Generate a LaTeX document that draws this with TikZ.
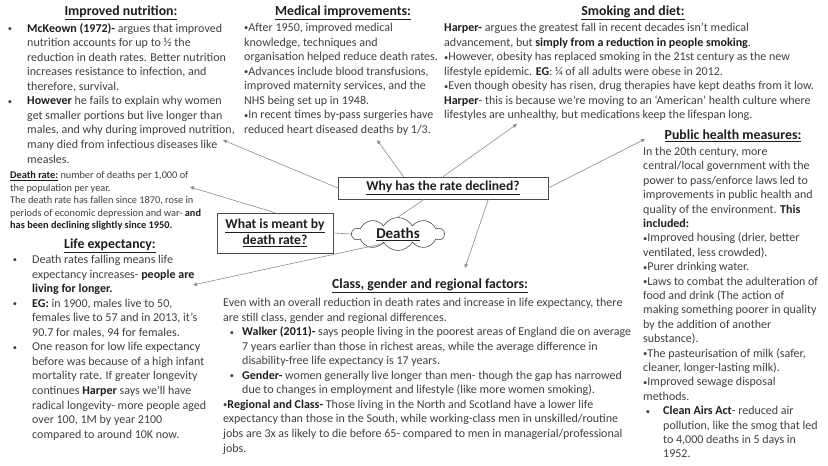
\documentclass[tikz,border=0pt]{standalone}
\usepackage{fontspec}
\setmainfont{Carlito}
\usetikzlibrary{arrows.meta,shapes.symbols}
\definecolor{ink}{HTML}{404040}
\definecolor{dark}{HTML}{1E1E1E}
\definecolor{wire}{HTML}{8C8C8C}
\tikzset{
  body/.style={text=ink, font=\fontsize{12}{14.55}\selectfont, align=left, anchor=north west, inner sep=0pt},
  small/.style={body, font=\fontsize{10.3}{12.4}\selectfont},
  ttl/.style={text=dark, font=\fontsize{13.8}{16}\selectfont\bfseries, inner sep=0pt},
  qbox/.style={draw=black!70, line width=0.6pt, text=dark, font=\fontsize{13.6}{16}\selectfont\bfseries, align=center},
  link/.style={draw=wire, line width=0.6pt},
  point/.style={link, -{Triangle[length=4pt,width=3.6pt]}},
}
\newcommand{\sbul}{{\fontsize{8.5}{8.5}\selectfont\raisebox{0.6pt}{•}}}
\newcommand{\lbul}[1]{\llap{\sbul\hspace{#1}}}
\newcommand{\indt}[1]{\hspace*{#1}}
\newcommand{\bd}[1]{{\color{dark}\bfseries #1}}

\begin{document}
\begin{tikzpicture}[x=1pt,y=-1pt]
\useasboundingbox (0,0) rectangle (828,466);
\fill[white] (0,0) rectangle (828,466);

% titles
\node[ttl] (nutrT) at (121,13) {\underline{Improved nutrition:}};
\node[ttl] (medT) at (343,13) {\underline{Medical improvements:}};
\node[ttl] (smokeT) at (633,13) {\underline{Smoking and diet:}};
\node[ttl] (lifeT) at (110,246) {\underline{Life expectancy:}};
\node[ttl] (classT) at (430,286) {\underline{Class, gender and regional factors:}};
\node[ttl] (pubT) at (733,136) {\underline{Public health measures:}};

% text blocks
\node[body] (nutr) at (27,23) {\lbul{15pt}\bd{McKeown (1972)-} argues that improved\\
nutrition accounts for up to ½ the\\
reduction in death rates. Better nutrition\\
increases resistance to infection, and\\
therefore, survival.\\
\lbul{15pt}\bd{However} he fails to explain why women\\
get smaller portions but live longer than\\
males, and why during improved nutrition,\\
many died from infectious diseases like\\
measles.};

\node[body] (med) at (244,23) {\sbul After 1950, improved medical\\
knowledge, techniques and\\
organisation helped reduce death rates.\\
\sbul Advances include blood transfusions,\\
improved maternity services, and the\\
NHS being set up in 1948.\\
\sbul In recent times by-pass surgeries have\\
reduced heart diseased deaths by 1/3.};

\node[body] (smoke) at (444,23) {\bd{Harper-} argues the greatest fall in recent decades isn’t medical\\
advancement,  but \bd{simply from a reduction in people smoking}.\\
\sbul However, obesity has replaced smoking in the 21st century as the new\\
lifestyle epidemic. \bd{EG}: ¼ of all adults were obese in 2012.\\
\sbul Even though obesity has risen, drug therapies have kept deaths from it low.\\
\bd{Harper}- this is because we’re moving to an ‘American’ health culture where\\
lifestyles are unhealthy, but medications  keep the lifespan long.};

\node[small] (rate) at (10,171.5) {\bd{\underline{Death rate:}} number of deaths per 1,000 of\\
the population per year.\\
The death rate has fallen since 1870, rose in\\
periods of economic depression and war- \bd{and}\\
\bd{has been declining slightly since 1950.}};

\node[body] (life) at (32,255) {\lbul{15pt}Death rates falling means life\\
expectancy increases- \bd{people are}\\
\bd{living for longer.}\\
\lbul{15pt}\bd{EG:} in 1900, males live to 50,\\
females live to 57 and in 2013, it’s\\
90.7 for males, 94 for females.\\
\lbul{15pt}One reason for low life expectancy\\
before was because of a high infant\\
mortality rate. If greater longevity\\
continues  \bd{Harper} says we’ll have\\
radical longevity- more people aged\\
over 100, 1M by year 2100\\
compared to around 10K now.};

\node[body] (class) at (223,298) {Even with an overall reduction in death rates and increase in life expectancy, there\\
are still class, gender and regional differences.\\
\indt{19pt}\lbul{8pt}\bd{Walker (2011)-} says people living in the poorest areas of England die on average\\
\indt{19pt}7 years earlier than those in richest areas, while the average difference in\\
\indt{19pt}disability-free  life expectancy is 17 years.\\
\indt{19pt}\lbul{8pt}\bd{Gender-} women generally live longer than men- though the gap has narrowed\\
\indt{19pt}due to changes in employment  and lifestyle (like more women smoking).\\
\sbul\bd{Regional and Class-} Those living in the North and Scotland have a lower life\\
expectancy than those in the South, while working-class men in unskilled/routine\\
jobs are 3x as likely to die before 65- compared to men in managerial/professional\\
jobs.};

\node[body, font=\fontsize{12}{14.4}\selectfont] (pub) at (643,147) {In the 20th century, more\\
central/local government with the\\
power to pass/enforce laws led to\\
improvements in public health and\\
quality of the environment. \bd{This}\\
\bd{included:}\\
\sbul Improved housing (drier, better\\
ventilated,  less crowded).\\
\sbul Purer drinking water.\\
\sbul Laws to combat the adulteration of\\
food and drink (The action of\\
making something poorer in quality\\
by the addition  of another\\
substance).\\
\sbul The pasteurisation of milk (safer,\\
cleaner, longer-lasting  milk).\\
\sbul Improved sewage disposal\\
methods.\\
\indt{20pt}\lbul{13pt}\bd{Clean Airs Act}- reduced air\\
\indt{20pt}pollution,  like the smog that led\\
\indt{20pt}to 4,000 deaths in 5 days in\\
\indt{20pt}1952.};

% centre of the map
\node[qbox, minimum width=210pt, minimum height=22pt, inner sep=0pt] (why) at (443,188) {\underline{Why has the rate declined?}};
\node[qbox, minimum width=116pt, minimum height=40pt, inner sep=0pt] (what) at (275,233) {\underline{What is meant by}\\\underline{death rate?}};
\node[cloud, cloud puffs=10, cloud puff arc=120, aspect=2.8, draw=black!70, line width=0.6pt,
  minimum width=92pt, minimum height=33pt, inner sep=0pt, text=dark,
  font=\fontsize{15}{17}\selectfont\bfseries] (deaths) at (398,234) {\underline{Deaths}};

% arrow ends
\coordinate (nutrTip) at (223,140);
\coordinate (medTip) at (377,140);
\coordinate (smokeTip) at (517,124);
\coordinate (pubTip) at (645,139);
\coordinate (classTip) at (465,268);
\coordinate (rateTip) at (190,187);
\coordinate (lifeTip) at (193,285);

\draw[point] (why.west) -- (nutrTip);
\draw[point] (why.164) -- (medTip);
\draw[point] (why.north) -- (smokeTip);
\draw[point] (why.east) -- (pubTip);
\draw[point] (why.346) -- (classTip);
\draw[link] (deaths.north) -- (why.211);
\draw[link] (what.east) -- (deaths.west);
\draw[point] (what.north) -- (rateTip);
\draw[point] (deaths.214) -- (lifeTip);
\end{tikzpicture}
\end{document}
